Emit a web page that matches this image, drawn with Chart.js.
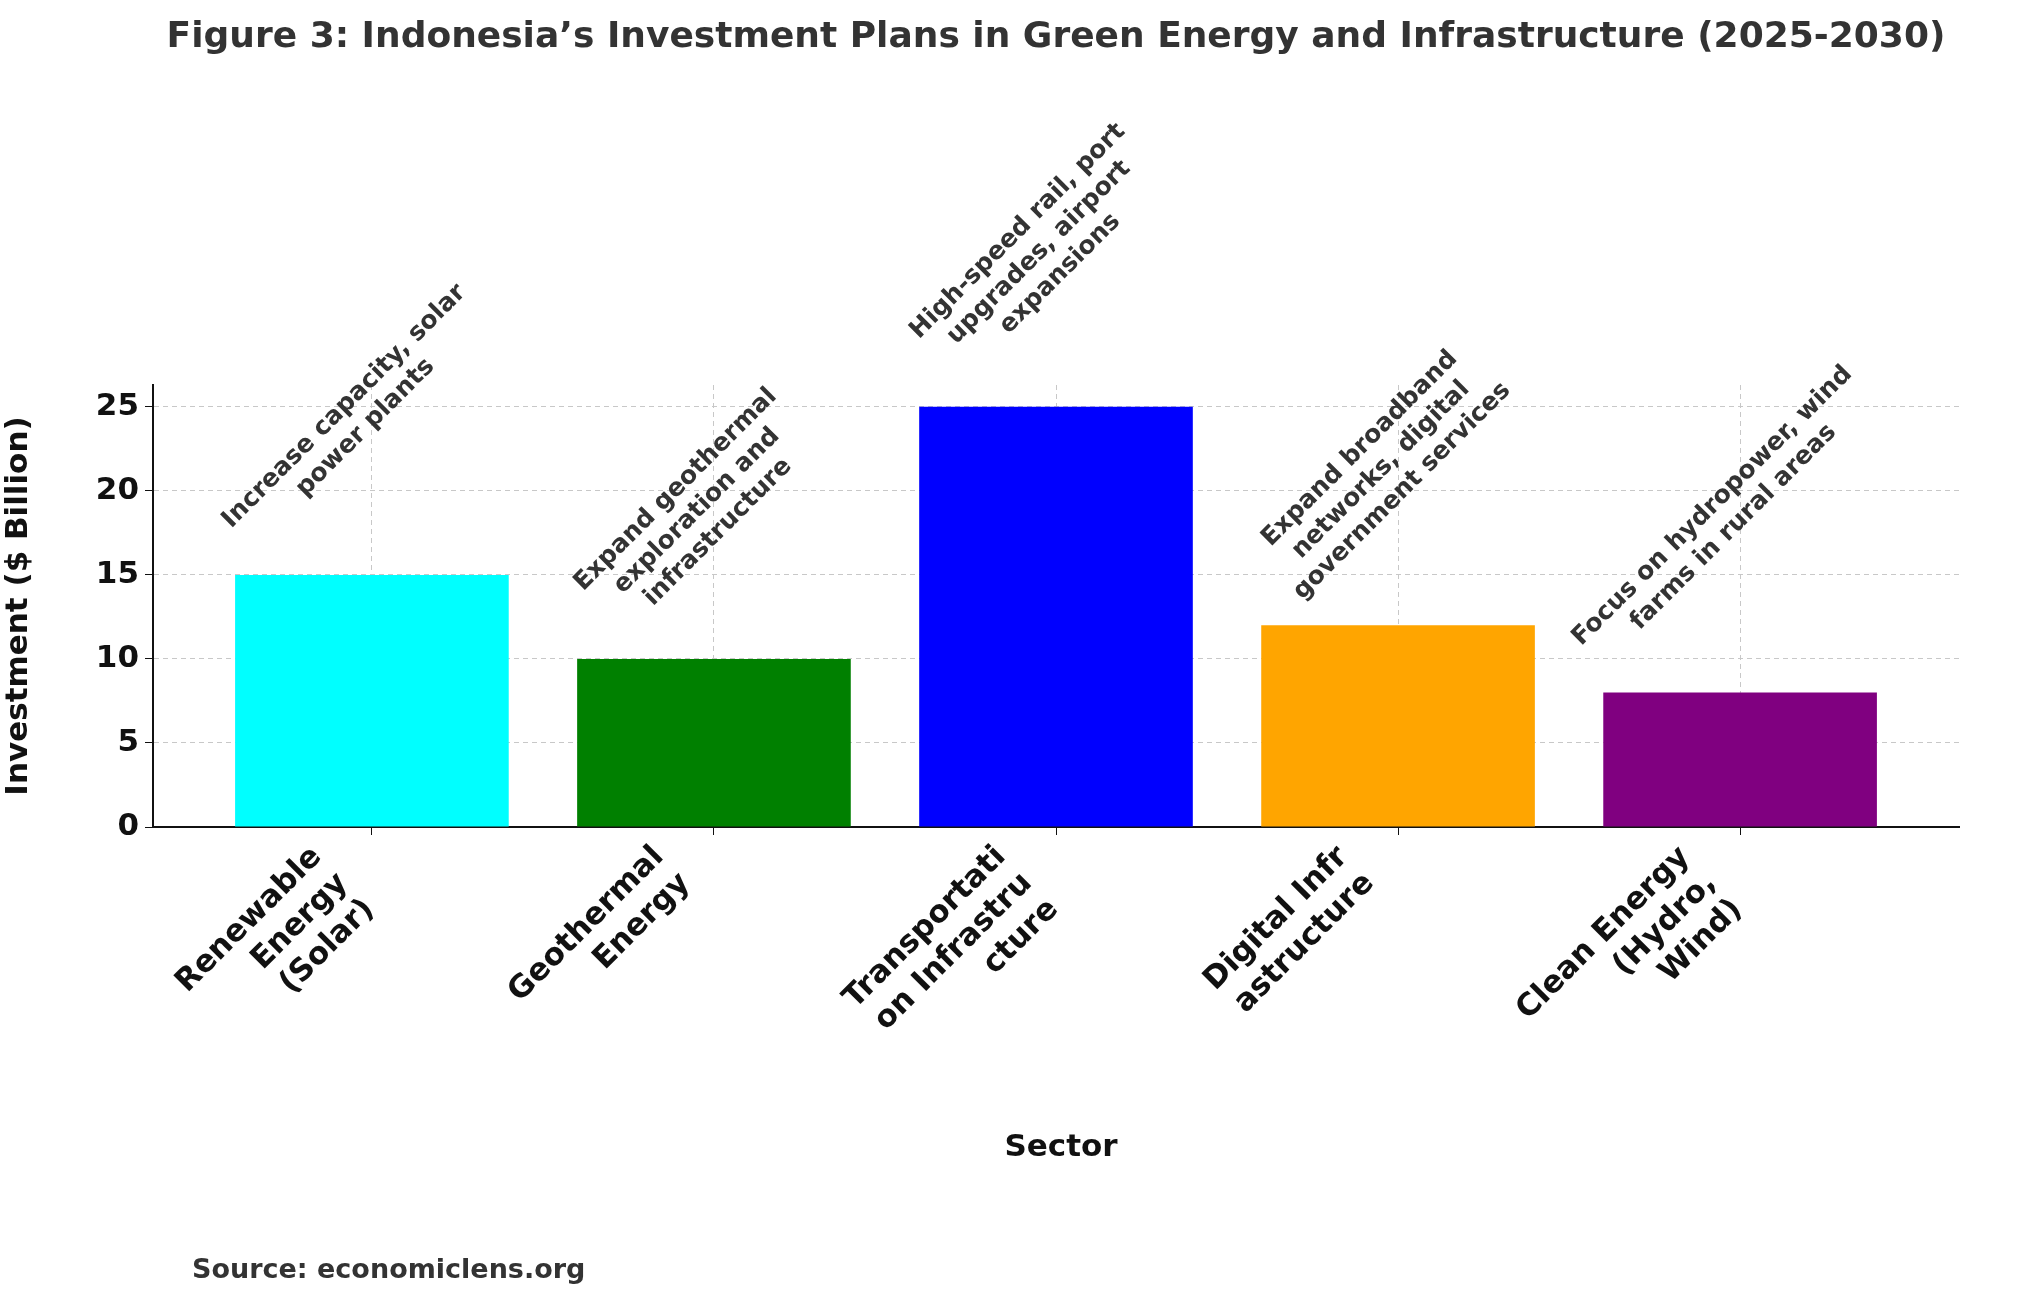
<!DOCTYPE html>
<html><head><meta charset="utf-8">
<script src="https://cdn.jsdelivr.net/npm/chart.js@4"></script>
<style>html,body{margin:0;padding:0;background:#fff}#c{display:block}</style>
</head><body>
<div style="width:2035px;height:1300px;position:relative"><canvas id="c"></canvas></div>
<script>
const categories = [["Renewable","Energy","(Solar)"],["Geothermal","Energy"],["Transportati","on Infrastru","cture"],["Digital Infr","astructure"],["Clean Energy","(Hydro,","Wind)"]];
const investment = [15, 10, 25, 12, 8];
const colors = ["#00ffff","#008000","#0000ff","#ffa500","#800080"];
const notes = [["Increase capacity, solar","power plants"],["Expand geothermal","exploration and","infrastructure"],["High-speed rail, port","upgrades, airport","expansions"],["Expand broadband","networks, digital","government services"],["Focus on hydropower, wind","farms in rural areas"]];
const yTicks = [0,5,10,15,20,25];
const F = "'DejaVu Sans', sans-serif";

const overlay = {
  id:'overlay',
  afterDatasetsDraw(chart){
    const ctx = chart.ctx, x = chart.scales.x, y = chart.scales.y;
    ctx.save();
    ctx.fillStyle = '#333';
    ctx.font = `bold 25px ${F}`;
    ctx.textAlign = 'center'; ctx.textBaseline = 'middle';
    investment.forEach((v,i)=>{
      const lines = notes[i], lh = 30;
      const W = Math.max(...lines.map(l=>ctx.measureText(l).width));
      const H = lh*lines.length;
      const bh = (W+H)/Math.SQRT2;
      const px = x.getPixelForValue(i) - 17, py = y.getPixelForValue(v) - 19 - bh/2;
      ctx.save(); ctx.translate(px, py); ctx.rotate(-Math.PI/4);
      lines.forEach((l,j)=>ctx.fillText(l, 0, (j-(lines.length-1)/2)*lh));
      ctx.restore();
    });
    ctx.font = `bold 36px ${F}`;
    ctx.fillText("Figure 3: Indonesia\u2019s Investment Plans in Green Energy and Infrastructure (2025-2030)", 1056, 38);
    ctx.fillStyle = '#111';
    ctx.font = `bold 31px ${F}`;
    ctx.fillText("Sector", 1061, 1148);
    ctx.fillStyle = '#333';
    ctx.font = `bold 27px ${F}`;
    ctx.textAlign = 'left';
    ctx.fillText("Source: economiclens.org", 192, 1271);
    ctx.restore();
  }
};

new Chart(document.getElementById('c'), {
  type:'bar',
  data:{datasets:[{data: investment.map((v,i)=>({x:i,y:v})), backgroundColor: colors, barPercentage:0.8, categoryPercentage:1}]},
  plugins:[overlay],
  options:{
    responsive:true, maintainAspectRatio:false, animation:false,
    layout:{padding:{top:385,right:76,left:0,bottom:0}},
    plugins:{legend:{display:false},tooltip:{enabled:false}},
    scales:{
      x:{type:'linear',min:-0.64,max:4.64,offset:false,
        afterBuildTicks:s=>{s.ticks=[0,1,2,3,4].map(v=>({value:v}));},
        afterFit:s=>{s.height=473;},
        ticks:{callback:(v)=>categories[v],color:'#111',font:{family:F,size:31,weight:'bold'},maxRotation:45,minRotation:45,autoSkip:false,padding:4,labelOffset:-55},
        grid:{offset:false,color:'#c8c8c8',lineWidth:1,tickColor:'#111',tickLength:8,drawTicks:true},
        border:{color:'#111',width:2,dash:[5,4]}},
      y:{min:0,max:26.3,
        afterBuildTicks:s=>{s.ticks=yTicks.map(v=>({value:v}));},
        afterFit:s=>{s.width=153;},
        ticks:{color:'#111',font:{family:F,size:31,weight:'bold'},padding:6},
        grid:{color:'#c8c8c8',lineWidth:1,tickColor:'#111',tickLength:8},
        border:{color:'#111',width:2,dash:[5,4]},
        title:{display:true,text:'Investment ($ Billion)',color:'#111',font:{family:F,size:31,weight:'bold'},padding:{top:0,bottom:10}}}
    }
  }
});
</script>
</body></html>
